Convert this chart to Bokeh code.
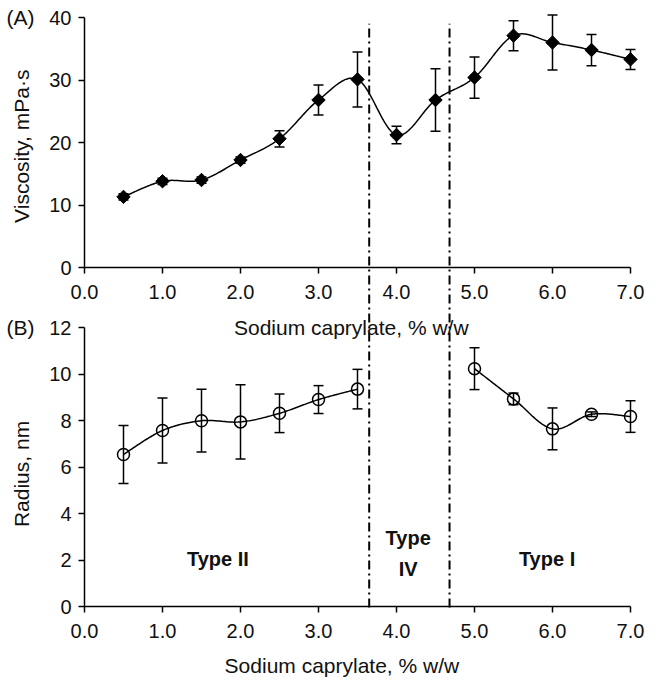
import numpy as np
from bokeh.plotting import figure
from bokeh.models import Range1d, LinearAxis, FixedTicker, Label, PrintfTickFormatter
from bokeh.embed import file_html
from bokeh.resources import INLINE

# ---------------- data ----------------
conc_a = [0.5, 1.0, 1.5, 2.0, 2.5, 3.0, 3.5, 4.0, 4.5, 5.0, 5.5, 6.0, 6.5, 7.0]
viscosity = [11.3, 13.8, 14.0, 17.2, 20.6, 26.8, 30.1, 21.2, 26.8, 30.4, 37.1, 36.0, 34.8, 33.3]
viscosity_err = [0.5, 0.5, 0.5, 0.5, 1.3, 2.4, 4.4, 1.4, 5.0, 3.3, 2.4, 4.4, 2.5, 1.6]

conc_b_low = [0.5, 1.0, 1.5, 2.0, 2.5, 3.0, 3.5]
radius_low = [6.54, 7.57, 7.99, 7.94, 8.31, 8.90, 9.35]
radius_low_err = [1.25, 1.40, 1.35, 1.60, 0.83, 0.60, 0.85]

conc_b_high = [5.0, 5.5, 6.0, 6.5, 7.0]
radius_high = [10.23, 8.93, 7.64, 8.27, 8.17]
radius_high_err = [0.90, 0.25, 0.90, 0.10, 0.68]

x_ticks = [0, 1, 2, 3, 4, 5, 6, 7]
visc_ticks = [0, 10, 20, 30, 40]
radius_ticks = [0, 2, 4, 6, 8, 10, 12]
phase_bounds = [3.65, 4.68]

# ---------------- layout constants (pixels inside the canvas) ----------------
W, H = 645, 677
X0_PX, X_SCALE = 84.0, 78.0          # x = 0 position, px per unit
A0_PX, A_SCALE = 267.0, 6.25         # viscosity = 0 row, px per unit
B0_PX, B_SCALE = 606.0, 23.25        # radius = 0 row, px per unit
DIVIDER_TOP = 39.0                   # in viscosity units

X_RANGE = (-X0_PX / X_SCALE, (W - X0_PX) / X_SCALE)
A_RANGE = (-(H - A0_PX) / A_SCALE, A0_PX / A_SCALE)
B_RANGE = (-(H - B0_PX) / B_SCALE, B0_PX / B_SCALE)
A_AT_B0 = (A0_PX - B0_PX - 1) / A_SCALE  # viscosity value just below radius axis row

FONT = "Liberation Sans"
TXT = "#111111"


def smooth(xs, ys, n=30):
    x = np.asarray(xs, float)
    y = np.asarray(ys, float)
    px = np.concatenate([[x[0]], x, [x[-1]]])
    py = np.concatenate([[y[0]], y, [y[-1]]])
    t = np.linspace(0, 1, n + 1)[1:]
    ox, oy = [x[0]], [y[0]]
    for i in range(1, len(px) - 2):
        for src, out in ((px, ox), (py, oy)):
            p0, p1, p2, p3 = src[i - 1], src[i], src[i + 1], src[i + 2]
            seg = 0.5 * ((2 * p1) + (-p0 + p2) * t + (2 * p0 - 5 * p1 + 4 * p2 - p3) * t ** 2
                         + (-p0 + 3 * p1 - 3 * p2 + p3) * t ** 3)
            out.extend(seg.tolist())
    return ox, oy


p = figure(width=W, height=H, output_backend="svg", toolbar_location=None,
           x_range=Range1d(*X_RANGE), y_range=Range1d(*B_RANGE),
           x_axis_type=None, y_axis_type=None,
           min_border_left=0, min_border_right=0, min_border_top=0, min_border_bottom=0)
p.extra_y_ranges = {"A": Range1d(*A_RANGE)}
p.outline_line_color = None
p.background_fill_color = "white"
p.border_fill_color = "white"


def style(ax, standoff):
    ax.axis_line_color = "black"
    ax.axis_line_width = 1.5
    ax.major_tick_line_color = "black"
    ax.major_tick_line_width = 1.5
    ax.major_tick_out = 6
    ax.major_tick_in = 0
    ax.minor_tick_line_color = None
    ax.major_label_text_font = FONT
    ax.major_label_text_font_size = "20px"
    ax.major_label_text_color = TXT
    ax.major_label_standoff = standoff


def xaxis(rng):
    kw = dict(fixed_location=0, ticker=FixedTicker(ticks=x_ticks),
              formatter=PrintfTickFormatter(format="%.1f"), bounds=(0, 7))
    if rng:
        kw["y_range_name"] = rng
    ax = LinearAxis(**kw)
    style(ax, 11)
    p.add_layout(ax, "below")


def yaxis(rng, ticks):
    kw = dict(fixed_location=0, ticker=FixedTicker(ticks=ticks), bounds=(ticks[0], ticks[-1]))
    if rng:
        kw["y_range_name"] = rng
    ax = LinearAxis(**kw)
    style(ax, 7)
    p.add_layout(ax, "left")


xaxis(None)
xaxis("A")
yaxis(None, radius_ticks)
yaxis("A", visc_ticks)

# phase boundaries (dash-dot) spanning both panels
p.segment(x0=phase_bounds, y0=[A_AT_B0] * len(phase_bounds),
          x1=phase_bounds, y1=[DIVIDER_TOP] * len(phase_bounds),
          y_range_name="A", line_color="black", line_width=2, line_dash="9 4 2 4")

# ---- Panel A: viscosity ----
sx, sy = smooth(conc_a, viscosity)
p.line(sx, sy, y_range_name="A", line_color="black", line_width=1.5)
va = np.array(viscosity)
ea = np.array(viscosity_err)
p.segment(x0=conc_a, y0=(va - ea).tolist(), x1=conc_a, y1=(va + ea).tolist(),
          y_range_name="A", line_color="black", line_width=1.5)
p.scatter(conc_a * 2, np.concatenate([va - ea, va + ea]).tolist(), y_range_name="A",
          marker="dash", size=10, line_color="black", line_width=1.5)
p.scatter(conc_a, viscosity, y_range_name="A", marker="square", angle=np.pi / 4,
          size=9.5, fill_color="black", line_color="black")

# ---- Panel B: radius ----
for xs, ys, es in ((conc_b_low, radius_low, radius_low_err),
                   (conc_b_high, radius_high, radius_high_err)):
    cx, cy = smooth(xs, ys)
    p.line(cx, cy, line_color="black", line_width=1.5)
    yv = np.array(ys)
    ev = np.array(es)
    p.segment(x0=xs, y0=(yv - ev).tolist(), x1=xs, y1=(yv + ev).tolist(),
              line_color="black", line_width=1.5)
    p.scatter(list(xs) * 2, np.concatenate([yv - ev, yv + ev]).tolist(),
              marker="dash", size=10, line_color="black", line_width=1.5)
    p.scatter(xs, ys, marker="circle", size=12, fill_color=None,
              line_color="black", line_width=1.5)


# ---- texts ----
def lab(x, y, text, rng=None, size="21px", bold=False, angle=0.0, align="center"):
    kw = dict(x=x, y=y, text=text, text_font=FONT, text_font_size=size,
              text_color=TXT, text_align=align, text_baseline="middle", angle=angle)
    if rng:
        kw["y_range_name"] = rng
    if bold:
        kw["text_font_style"] = "bold"
    p.add_layout(Label(**kw))


lab(-1.0, 40, "(A)", rng="A", align="left")
lab(-1.0, 12, "(B)", align="left")
lab(-0.81, 19.4, "Viscosity, mPa\u00b7s", rng="A", angle=np.pi / 2)
lab(-0.81, 5.7, "Radius, nm", angle=np.pi / 2)
lab(3.42, -9.6, "Sodium caprylate, % w/w", rng="A")
lab(3.30, -2.54, "Sodium caprylate, % w/w")
lab(1.71, 2.05, "Type II", size="20px", bold=True)
lab(4.15, 2.96, "Type", size="20px", bold=True)
lab(4.15, 1.63, "IV", size="20px", bold=True)
lab(5.93, 2.05, "Type I", size="20px", bold=True)

open("out.html", "w").write(file_html(p, INLINE))
